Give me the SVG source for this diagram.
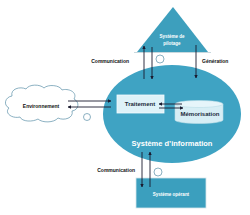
<svg xmlns="http://www.w3.org/2000/svg" width="250" height="215" viewBox="0 0 250 215">
<defs>
<marker id="ah" viewBox="0 0 10 10" refX="9" refY="5" markerWidth="4" markerHeight="4" orient="auto-start-reverse">
<path d="M0,0 L10,5 L0,10 z" fill="#1a1a2e"/>
</marker>
<style>
.lbl{font-family:"Liberation Sans",Arial,sans-serif;font-size:5px;font-weight:bold;fill:#111;}
.wt{font-family:"Liberation Sans",Arial,sans-serif;font-weight:bold;fill:#fff;text-anchor:middle;}
.dk{font-family:"Liberation Sans",Arial,sans-serif;font-weight:bold;fill:#1b2b3a;text-anchor:middle;font-size:6px;}
.con{stroke:#1a1a2e;stroke-width:0.9;fill:none;marker-end:url(#ah);}
.bub{fill:#fff;stroke:#5a8fa8;stroke-width:0.7;}
</style>
</defs>
<rect width="250" height="215" fill="#fff"/>
<g id="pilotage">
<polygon points="173,7 137,52 208,52" fill="#3d9fbd"/>
<line x1="134" y1="52.5" x2="211" y2="52.5" stroke="#c8d8de" stroke-width="1"/>
<text class="wt" x="172" y="38" font-size="4.5">Système de</text>
<text class="wt" x="172" y="45" font-size="4.5">pilotage</text>
</g>
<g id="information">
<ellipse cx="172" cy="114" rx="69" ry="49" fill="#3fa3c3"/>
<text class="wt" x="172" y="146" font-size="7.5">Système d’information</text>
</g>
<g id="traitement">
<rect x="117" y="95" width="47" height="18" fill="#def2f8" stroke="#f4fbfd" stroke-width="0.8"/>
<text class="dk" x="140" y="106">Traitement</text>
</g>
<g id="memorisation">
<path d="M175,104 L175,120 A24,3.5 0 0 0 223,120 L223,104" fill="#d7eef5" stroke="#b9dbe6" stroke-width="0.6"/>
<ellipse cx="199" cy="104" rx="24" ry="3.5" fill="#e6f5fa" stroke="#b9dbe6" stroke-width="0.6"/>
<text class="dk" x="200" y="116">Mémorisation</text>
</g>
<g id="environnement">
<path d="M12,96 C10,89 20,86 26,89 C29,84 40,84 44,88 C48,84 60,85 62,90 C68,88 78,92 74,99 C80,102 79,110 72,111 C74,118 64,121 58,118 C54,123 42,123 38,119 C33,122 22,122 20,117 C12,119 4,113 9,108 C3,105 5,97 12,96 Z" class="bub"/>
<text class="lbl" x="41" y="108" text-anchor="middle">Environnement</text>
<circle cx="87" cy="117" r="3.5" class="bub"/>
</g>
<g id="operant">
<rect x="136" y="178" width="70" height="30" fill="#3b9fbe" stroke="#d5e6ec" stroke-width="0.8"/>
<text class="wt" x="171" y="196" font-size="4.5">Système opérant</text>
</g>
<g id="bubbles">
<circle cx="160" cy="59" r="4" class="bub"/>
<circle cx="158" cy="172" r="4" class="bub"/>
</g>
<g id="connectors">
<line class="con" x1="68" y1="101" x2="111" y2="101"/>
<line class="con" x1="111" y1="107" x2="68" y2="107"/>
<line class="con" x1="182" y1="104" x2="159" y2="104"/>
<line class="con" x1="159" y1="108" x2="183" y2="108"/>
<line class="con" x1="144" y1="79" x2="144" y2="46"/>
<line class="con" x1="152" y1="47" x2="152" y2="79"/>
<line class="con" x1="196" y1="45" x2="196" y2="78"/>
<line class="con" x1="142" y1="152" x2="142" y2="187"/>
<line class="con" x1="150" y1="187" x2="150" y2="152"/>
</g>
<g id="labels">
<text class="lbl" x="129" y="63" text-anchor="end">Communication</text>
<text class="lbl" x="202" y="63">Génération</text>
<text class="lbl" x="135" y="172" text-anchor="end">Communication</text>
</g>
</svg>
